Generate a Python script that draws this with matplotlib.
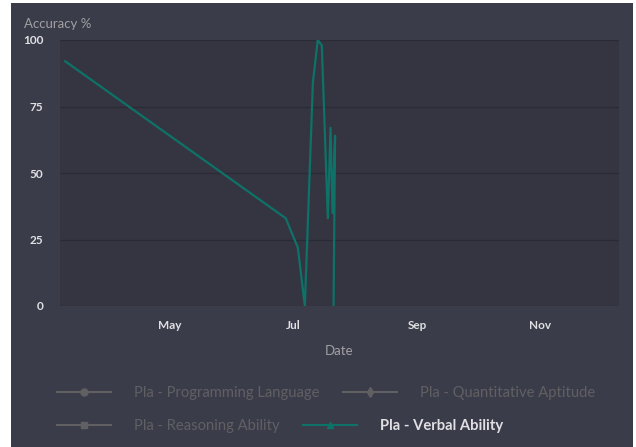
import matplotlib
matplotlib.use('Agg')
import matplotlib.pyplot as plt
import matplotlib.dates as mdates
from matplotlib.lines import Line2D
from matplotlib.patches import Rectangle
import pandas as pd

# data (only the Verbal Ability series is visible)
dates = ['2018-03-10 00:00', '2018-06-27 12:00', '2018-07-03 12:00', '2018-07-07 00:00',
         '2018-07-11 00:00', '2018-07-13 10:00', '2018-07-15 10:00', '2018-07-18 10:00',
         '2018-07-19 18:00', '2018-07-20 18:00', '2018-07-22 00:00', '2018-07-21 06:00']
accuracy = [92, 33, 22, 0, 84, 100, 98, 33, 67, 35, 64, 0]

series_names = ['Pla - Programming Language', 'Pla - Quantitative Aptitude',
                'Pla - Reasoning Ability', 'Pla - Verbal Ability']
series_markers = ['o', 'd', 's', '^']
y_ticks = [0, 25, 50, 75, 100]

W, H = 636, 447
panel_col = '#3b3c4a'
plot_col = '#343541'
grid_col = '#2a2b34'
line_col = '#0e7268'
hidden_col = '#606063'
label_col = '#e0e0e3'
title_col = '#a0a0a3'

plt.rcParams['font.family'] = ['Lato', 'DejaVu Sans']

fig = plt.figure(figsize=(W / 100, H / 100), dpi=100, facecolor='white')
fig.patches.append(Rectangle((11 / W, 0), (633 - 11) / W, 444 / H,
                             transform=fig.transFigure, facecolor=panel_col,
                             edgecolor='none', zorder=-10))

ax = fig.add_axes([60 / W, 1 - 306 / H, (619 - 60) / W, (306 - 40) / H])
ax.set_facecolor(plot_col)

x = pd.to_datetime(dates, format='%Y-%m-%d %H:%M')
ax.plot(x, accuracy, color=line_col, lw=1.6, zorder=3)

ax.set_ylim(0, 100)
ax.set_yticks(y_ticks)
ax.set_xlim(pd.Timestamp('2018-03-07 10:00'), pd.Timestamp('2018-12-10'))
ax.xaxis.set_major_locator(mdates.MonthLocator(bymonth=[5, 7, 9, 11]))
ax.xaxis.set_major_formatter(mdates.DateFormatter('%b'))

ax.grid(axis='y', color=grid_col, lw=1)
ax.set_axisbelow(True)
for s in ax.spines.values():
    s.set_visible(False)
ax.tick_params(axis='both', length=0, colors=label_col, labelsize=8.5)
ax.tick_params(axis='x', pad=10)
ax.tick_params(axis='y', pad=12)
for lbl in ax.get_xticklabels() + ax.get_yticklabels():
    lbl.set_fontweight('bold')

ax.set_xlabel('Date', color=title_col, fontsize=9.5, labelpad=10)
fig.text(24 / W, 1 - 24 / H, 'Accuracy %', color=title_col, fontsize=9.5,
         ha='left', va='center')

# legend: two rows, flowing like the original
handles = []
for i, (name, mk) in enumerate(zip(series_names, series_markers)):
    col = line_col if i == 3 else hidden_col
    handles.append(Line2D([], [], color=col, lw=1.5, marker=mk, markersize=5,
                          markeredgecolor=col, markerfacecolor=col))

for row, ypix in enumerate([393, 426]):
    leg = fig.legend(handles[2 * row:2 * row + 2], series_names[2 * row:2 * row + 2],
                     loc='center left', bbox_to_anchor=(57 / W, 1 - ypix / H),
                     bbox_transform=fig.transFigure, ncol=2, frameon=False,
                     fontsize=10.6, handlelength=3.7, handletextpad=1.55,
                     columnspacing=1.55, borderpad=0, borderaxespad=0)
    for i, t in enumerate(leg.get_texts()):
        if row == 1 and i == 1:
            t.set_color(label_col)
            t.set_fontweight('bold')
        else:
            t.set_color(hidden_col)

fig.savefig('out.png', dpi=100, facecolor=fig.get_facecolor())
